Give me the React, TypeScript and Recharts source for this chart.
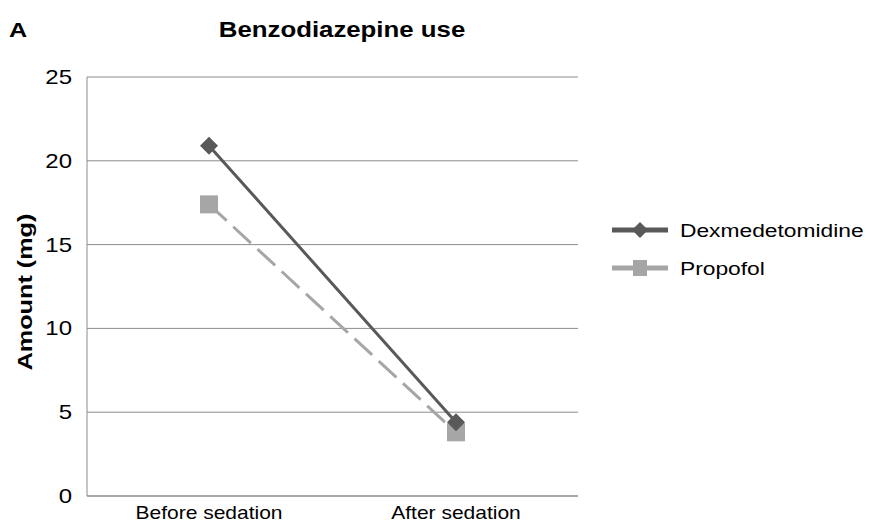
import { LineChart, Line, XAxis, YAxis, CartesianGrid } from 'recharts';

const timepoints = ['Before sedation', 'After sedation'];
const dexmedetomidine = [20.9, 4.4];
const propofol = [17.4, 3.8];
const yTicks = [0, 5, 10, 15, 20, 25];

const DEX_COLOR = '#595959';
const PRO_COLOR = '#a6a6a6';
const FONT = 'Liberation Sans, Arial, sans-serif';
const STRETCH = 1.2; // reference text is rendered a bit wide

const data = timepoints.map((t, i) => ({
  time: t,
  dex: dexmedetomidine[i],
  pro: propofol[i],
}));

function WideText({
  x,
  y,
  size,
  bold,
  anchor = 'start',
  rotate = 0,
  children,
}: {
  x: number;
  y: number;
  size: number;
  bold?: boolean;
  anchor?: 'start' | 'middle' | 'end';
  rotate?: number;
  children: string;
}) {
  return (
    <text
      x={0}
      y={0}
      transform={`translate(${x},${y}) rotate(${rotate}) scale(${STRETCH},1)`}
      textAnchor={anchor}
      fontSize={size}
      fontWeight={bold ? 'bold' : 'normal'}
      fontFamily={FONT}
      fill="#000"
    >
      {children}
    </text>
  );
}

function XTick(props: any) {
  const { x, y, payload } = props;
  return <WideText x={x} y={y + 13} size={17.5} anchor="middle">{String(payload.value)}</WideText>;
}

function YTick(props: any) {
  const { x, y, payload } = props;
  return <WideText x={x} y={y + 7} size={20} anchor="end">{String(payload.value)}</WideText>;
}

function DiamondDot({ cx, cy }: { cx?: number; cy?: number }) {
  if (cx == null || cy == null) return null;
  const r = 9;
  return (
    <path
      d={`M${cx},${cy - r} L${cx + r},${cy} L${cx},${cy + r} L${cx - r},${cy} Z`}
      fill={DEX_COLOR}
    />
  );
}

function SquareDot({ cx, cy }: { cx?: number; cy?: number }) {
  if (cx == null || cy == null) return null;
  const s = 9;
  return <rect x={cx - s} y={cy - s} width={s * 2} height={s * 2} fill={PRO_COLOR} />;
}

function LegendBlock() {
  const items = [
    { name: 'Dexmedetomidine', color: DEX_COLOR, shape: 'diamond' },
    { name: 'Propofol', color: PRO_COLOR, shape: 'square' },
  ];
  return (
    <g>
      {items.map((it, i) => {
        const y = 230 + i * 38;
        return (
          <g key={it.name}>
            <line x1={612} y1={y} x2={668} y2={y} stroke={it.color} strokeWidth={5} />
            {it.shape === 'diamond' ? (
              <path d={`M640,${y - 8} L648,${y} L640,${y + 8} L632,${y} Z`} fill={it.color} />
            ) : (
              <rect x={633} y={y - 8} width={14} height={16} fill={it.color} />
            )}
            <WideText x={680} y={y + 7} size={19}>{it.name}</WideText>
          </g>
        );
      })}
    </g>
  );
}

export default function App() {
  return (
    <div style={{ position: 'absolute', left: 0, top: 0, width: 874, height: 529, background: '#fff' }}>
      <LineChart
        width={874}
        height={529}
        data={data}
        margin={{ top: 77, right: 296, left: 27, bottom: 3 }}
      >
        <WideText x={9} y={37} size={21} bold>A</WideText>
        <WideText x={342} y={37} size={21.5} bold anchor="middle">Benzodiazepine use</WideText>
        <WideText x={32} y={292} size={21} bold anchor="middle" rotate={-90}>Amount (mg)</WideText>
        <CartesianGrid vertical={false} stroke="#8c8c8c" strokeWidth={1} />
        <XAxis
          dataKey="time"
          padding={{ left: 122, right: 122 }}
          tickLine={false}
          axisLine={{ stroke: '#8c8c8c' }}
          tickMargin={4}
          tick={<XTick />}
        />
        <YAxis
          width={60}
          domain={[0, 25]}
          ticks={yTicks}
          tickLine={false}
          axisLine={{ stroke: '#8c8c8c' }}
          tickMargin={9}
          tick={<YTick />}
        />
        <Line
          type="linear"
          dataKey="pro"
          stroke={PRO_COLOR}
          strokeWidth={3}
          strokeDasharray="24 9"
          dot={<SquareDot />}
          isAnimationActive={false}
        />
        <Line
          type="linear"
          dataKey="dex"
          stroke={DEX_COLOR}
          strokeWidth={3}
          dot={<DiamondDot />}
          isAnimationActive={false}
        />
        <LegendBlock />
      </LineChart>
    </div>
  );
}
